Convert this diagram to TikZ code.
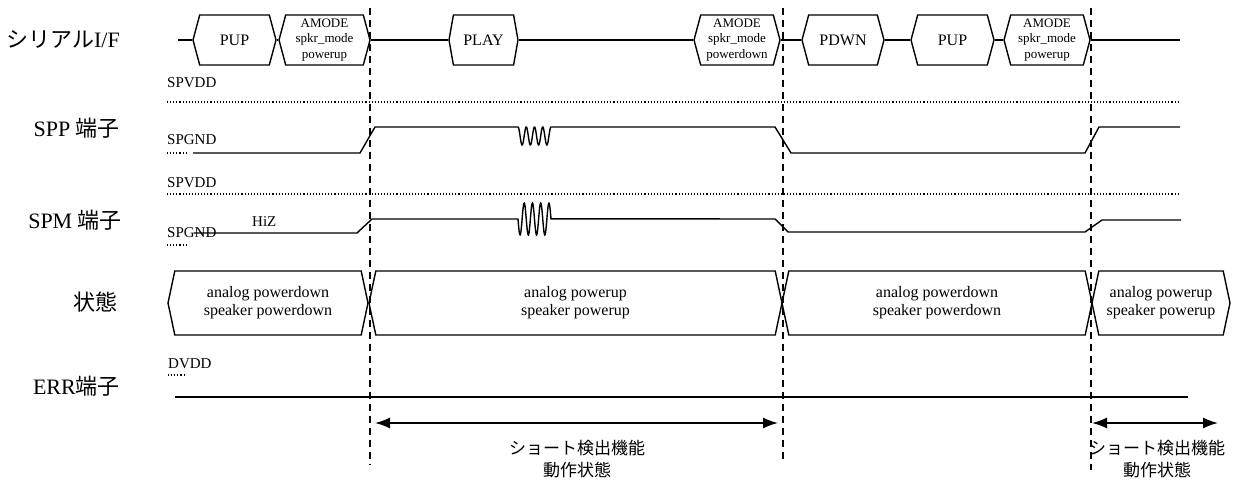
\documentclass[tikz,border=0pt]{standalone}
\usepackage{fontspec}
\setmainfont{Liberation Serif}
\newfontfamily\jpfont{Noto Sans CJK JP}
\usetikzlibrary{arrows.meta,shapes.symbols}

\begin{document}
\begin{tikzpicture}[x=1pt, y=-1pt,
  rowlabel/.style={anchor=east, inner sep=0pt, font=\fontsize{22}{25}\selectfont},
  railtext/.style={anchor=base west, inner sep=0pt, font=\fontsize{15}{17}\selectfont},
  busbox/.style={draw, line width=1.4pt, signal, signal to=west and east,
    signal pointer angle=150, minimum height=50, inner sep=1pt, align=center,
    font=\fontsize{16}{18}\selectfont},
  cmdbox/.style={busbox, font=\fontsize{13}{15.5}\selectfont},
  statebox/.style={busbox, signal pointer angle=156, minimum height=64,
    font=\fontsize{16}{18}\selectfont},
  wave/.style={line width=1.4pt},
  rail/.style={dotted, line width=1.1pt},
  marker/.style={line width=1.4pt, dash pattern=on 7pt off 5pt},
  span/.style={{Latex[length=15pt,width=11pt]}-{Latex[length=15pt,width=11pt]}, line width=1.5pt},
  jplabel/.style={align=center, font=\jpfont\fontsize{17}{22}\selectfont}
]
\useasboundingbox (0,0) rectangle (1237,486);

% row labels
\node[rowlabel] (serlbl) at (120,40) {{\jpfont シリアル}I/F};
\node[rowlabel] (spplbl) at (120,128) {SPP {\jpfont 端子}};
\node[rowlabel] (spmlbl) at (122,220) {SPM {\jpfont 端子}};
\node[rowlabel] (statlbl) at (118,302) {\jpfont 状態};
\node[rowlabel] (errlbl) at (120,386) {ERR{\jpfont 端子}};

% serial I/F
\coordinate (serin) at (178,40);
\coordinate (serout) at (1180,40);
\node[busbox, minimum width=83] (pup1) at (234.5,40) {PUP};
\node[cmdbox, minimum width=91] (amode1) at (324.5,40) {AMODE\\spkr\_mode\\powerup};
\node[busbox, minimum width=69, signal pointer angle=160] (play) at (483.5,40) {PLAY};
\node[cmdbox, minimum width=86] (amode2) at (737,40) {AMODE\\spkr\_mode\\powerdown};
\node[busbox, minimum width=82] (pdwn) at (843,40) {PDWN};
\node[busbox, minimum width=83] (pup2) at (952.5,40) {PUP};
\node[cmdbox, minimum width=86] (amode3) at (1047,40) {AMODE\\spkr\_mode\\powerup};
\draw[wave] (serin) -- (pup1.west) (pup1.east) -- (amode1.west)
  (amode1.east) -- (play.west) (play.east) -- (amode2.west)
  (amode2.east) -- (pdwn.west) (pdwn.east) -- (pup2.west)
  (pup2.east) -- (amode3.west) (amode3.east) -- (serout);

% supply rails
\node[railtext] (vdd1) at (167,88) {SPVDD};
\node[railtext] (gnd1) at (167,145) {SPGND};
\node[railtext] (vdd2) at (167,188) {SPVDD};
\node[railtext] (gnd2) at (167,238) {SPGND};
\node[railtext] (hiz) at (252,227) {HiZ};
\node[railtext] (dvdd) at (168,368) {DVDD};
\draw[rail] (167,102) -- (1180,102);
\draw[rail] (167,194) -- (1180,194);
\draw[rail] (167,153) -- (187,153);
\draw[rail] (167,245) -- (187,245);
\draw[rail] (168,375) -- (184,375);

% SPP
\draw[wave] (193,153) -- (360,153) -- (375,127) -- (518,127)
  -- plot[domain=0:1, samples=90, smooth] ({518+33*\x},{136-9*cos(1440*\x)})
  -- (775,127) -- (791,153) -- (1085,153) -- (1099,127) -- (1180,127);

% SPM
\draw[wave] (194,233) -- (357,233) -- (372,219) -- (518,219)
  -- plot[domain=0:1, samples=90, smooth] ({518+33*\x},{219+16*sin(1440*\x)})
  -- (775,219) -- (788,232) -- (1085,232) -- (1102,220) -- (1181,220);

% state
\node[statebox, minimum width=200] (st1) at (268,303) {analog powerdown\\speaker powerdown};
\node[statebox, minimum width=413] (st2) at (575.5,303) {analog powerup\\speaker powerup};
\node[statebox, minimum width=310] (st3) at (937,303) {analog powerdown\\speaker powerdown};
\node[statebox, minimum width=138] (st4) at (1161,303) {analog powerup\\speaker powerup};

% ERR
\coordinate (errin) at (175,397);
\coordinate (errout) at (1188,397);
\draw[line width=1.3pt] (errin) -- (errout);

% timing markers
\foreach \mx/\mb in {370/465, 783/462, 1091/470}
  \draw[marker] (\mx,8) -- (\mx,\mb);

% short detection windows
\coordinate (win1l) at (375,423);
\coordinate (win1r) at (778,423);
\coordinate (win2l) at (1092,423);
\coordinate (win2r) at (1218,423);
\draw[span] (win1l) -- (win1r);
\draw[span] (win2l) -- (win2r);
\node[jplabel] (win1txt) at (577,459) {ショート検出機能\\動作状態};
\node[jplabel] (win2txt) at (1157,459) {ショート検出機能\\動作状態};
\end{tikzpicture}
\end{document}
